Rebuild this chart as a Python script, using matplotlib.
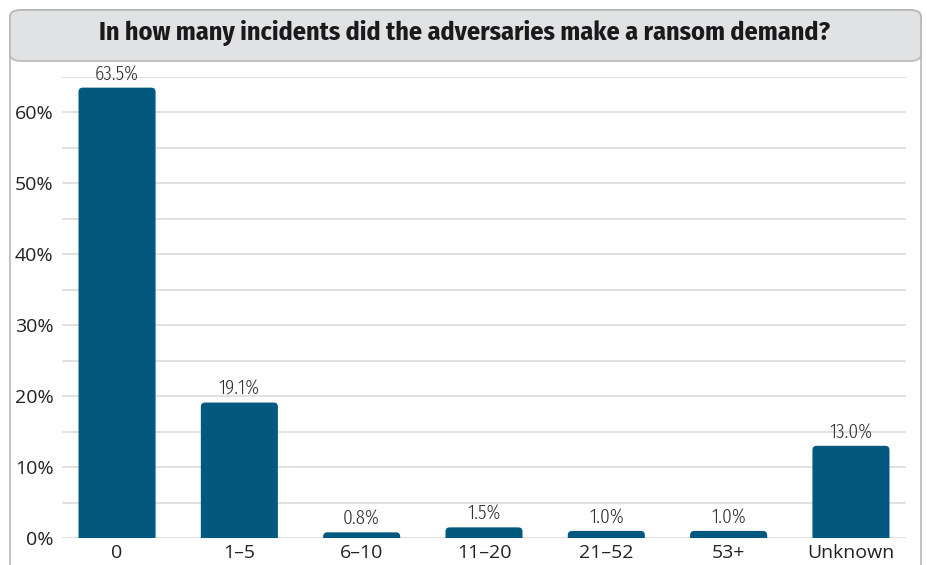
import matplotlib.pyplot as plt
from matplotlib.patches import FancyBboxPatch

categories = ['0', '1–5', '6–10', '11–20', '21–52', '53+', 'Unknown']
shares = [63.5, 19.1, 0.8, 1.5, 1.0, 1.0, 13.0]
value_labels = ['63.5%', '19.1%', '0.8%', '1.5%', '1.0%', '1.0%', '13.0%']
y_ticks = [0, 10, 20, 30, 40, 50, 60]

bar_color = '#03587f'
W, H = 928, 565
title_font = ['Fira Sans Condensed', 'DejaVu Sans']
value_font = ['Fira Sans Extra Condensed', 'DejaVu Sans']
tick_font = ['Open Sans', 'DejaVu Sans']

fig = plt.figure(figsize=(W / 100, H / 100), dpi=100)

# outer frame and grey title band
frame = FancyBboxPatch((10 / W, -0.05), 911 / W, (555 / H) + 0.05,
                       boxstyle='round,pad=0,rounding_size=0.012',
                       transform=fig.transFigure, facecolor='white',
                       edgecolor='#b8b8b8', linewidth=1.2, zorder=-2)
fig.patches.append(frame)
band = FancyBboxPatch((10 / W, 1 - 61 / H), 911 / W, 51 / H,
                      boxstyle='round,pad=0,rounding_size=0.012',
                      transform=fig.transFigure, facecolor='#e1e2e3',
                      edgecolor='#b8b8b8', linewidth=1.2, zorder=-1)
fig.patches.append(band)
fig.text(465 / W, 1 - 33 / H, 'In how many incidents did the adversaries make a ransom demand?',
         ha='center', va='center', fontsize=18.8, fontweight='bold',
         family=title_font, color='#1a1a1a')

ax = fig.add_axes([62 / W, 1 - 538 / H, 844 / W, (538 - 77) / H])
ax.set_xlim(-0.45, 6.45)
ax.set_ylim(0, 65)

bars = ax.bar(range(len(categories)), shares, width=0.63, color=bar_color, zorder=3)

# swap plain rectangles for ones with rounded top corners
rx = 0.035
ry = rx * (844 / 6.9) / (461 / 65)
for b in bars:
    x, w, h = b.get_x(), b.get_width(), b.get_height()
    b.set_visible(False)
    ax.add_patch(FancyBboxPatch((x, -ry * 2), w, h + ry * 2,
                                boxstyle=f'round,pad=0,rounding_size={rx}',
                                mutation_aspect=ry / rx, facecolor=bar_color,
                                edgecolor='none', zorder=3))

for i, (v, lab) in enumerate(zip(shares, value_labels)):
    ax.text(i, v + 0.6, lab, ha='center', va='bottom', fontsize=15,
            fontweight=300, family=value_font, color='#333333')

for y in range(0, 66, 5):
    ax.axhline(y, color='#dcdcdc', linewidth=1.2, zorder=1)

ax.set_yticks(y_ticks)
ax.set_yticklabels([f'{t}%' for t in y_ticks])
ax.set_xticks(range(len(categories)))
ax.set_xticklabels(categories)
ax.tick_params(length=0, labelsize=14, colors='#222222', pad=4)
ax.tick_params(axis='y', pad=6)
for lab in ax.get_xticklabels() + ax.get_yticklabels():
    lab.set_family(tick_font)
for s in ax.spines.values():
    s.set_visible(False)
ax.set_facecolor('none')

fig.savefig('out.png', dpi=100)
